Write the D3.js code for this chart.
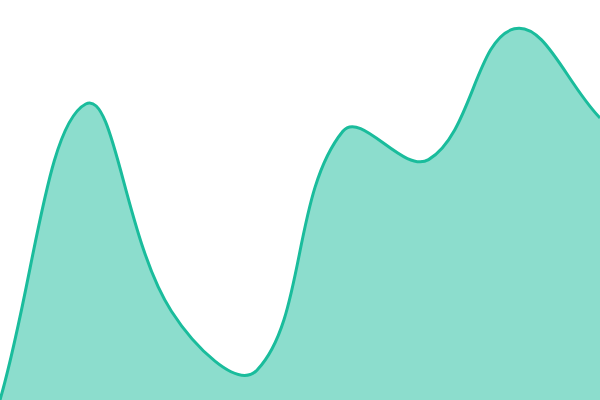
<!DOCTYPE html>
<html>
<head>
<meta charset="utf-8">
<script src="https://cdn.jsdelivr.net/npm/d3@7"></script>
<style>
  html, body { margin: 0; padding: 0; background: #fff; }
  svg { display: block; }
</style>
</head>
<body>
<svg id="chart" width="600" height="400"></svg>
<script>
const labels = ['1', '2', '3', '4', '5', '6', '7', '8'];
const values = [0, 74, 22.2, 7.5, 67.2, 60.1, 92.8, 70.5];

const width = 600;
const height = 400;

// spline like chart.js (tension 0.4, control points weighted by segment length)
function SplineCurve(context) {
  this._context = context;
}

SplineCurve.prototype = {
  areaStart() { this._line = 0; },
  areaEnd() { this._line = NaN; },
  lineStart() { this._pts = []; },
  point(x, y) { this._pts.push([+x, +y]); },
  lineEnd() {
    const p = this._pts;
    const c = this._context;
    const n = p.length;
    const t = 0.4;

    if (n) {
      if (this._line) c.lineTo(p[0][0], p[0][1]);
      else c.moveTo(p[0][0], p[0][1]);

      const cps = p.map((cur, i) => {
        const prev = p[i - 1] || cur;
        const next = p[i + 1] || cur;
        const d01 = Math.hypot(cur[0] - prev[0], cur[1] - prev[1]);
        const d12 = Math.hypot(next[0] - cur[0], next[1] - cur[1]);
        let s01 = d01 / (d01 + d12);
        let s12 = d12 / (d01 + d12);
        if (isNaN(s01)) s01 = 0;
        if (isNaN(s12)) s12 = 0;
        const fa = t * s01;
        const fb = t * s12;
        const clampX = v => Math.max(0, Math.min(width, v));
        const clampY = v => Math.max(0, Math.min(height, v));
        return {
          px: clampX(cur[0] - fa * (next[0] - prev[0])),
          py: clampY(cur[1] - fa * (next[1] - prev[1])),
          nx: clampX(cur[0] + fb * (next[0] - prev[0])),
          ny: clampY(cur[1] + fb * (next[1] - prev[1]))
        };
      });

      for (let i = 1; i < n; i++) {
        c.bezierCurveTo(cps[i - 1].nx, cps[i - 1].ny, cps[i].px, cps[i].py, p[i][0], p[i][1]);
      }
    }

    if (this._line || (this._line !== 0 && n === 1)) c.closePath();
    this._line = 1 - this._line;
  }
};

const splineCurve = context => new SplineCurve(context);

const x = d3.scalePoint()
  .domain(labels)
  .range([0, width]);

const y = d3.scaleLinear()
  .domain([0, 100])
  .range([height, 0]);

const points = labels.map((l, i) => ({ label: l, value: values[i] }));

const svg = d3.select('#chart');

const area = d3.area()
  .x(d => x(d.label))
  .y0(height)
  .y1(d => y(d.value))
  .curve(splineCurve);

const line = d3.line()
  .x(d => x(d.label))
  .y(d => y(d.value))
  .curve(splineCurve);

svg.append('path')
  .datum(points)
  .attr('d', area)
  .attr('fill', 'rgba(26, 188, 156, 0.5)');

svg.append('path')
  .datum(points)
  .attr('d', line)
  .attr('fill', 'none')
  .attr('stroke', '#1abc9c')
  .attr('stroke-width', 3);
</script>
</body>
</html>
